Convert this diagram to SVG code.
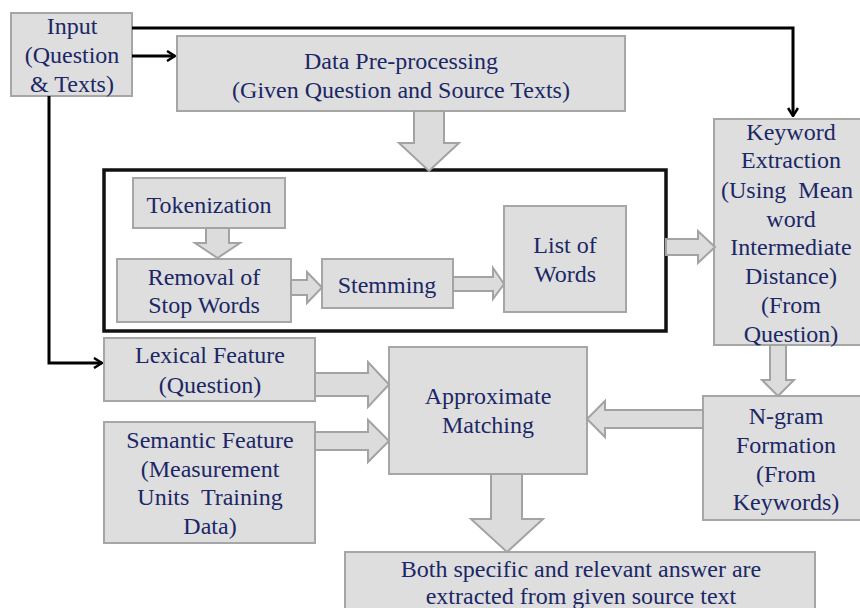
<svg xmlns="http://www.w3.org/2000/svg" width="860" height="608" viewBox="0 0 860 608">
  <style>
    .box { fill: #dedede; stroke: #a6a6a6; stroke-width: 2; }
    .frame { fill: none; stroke: #111; stroke-width: 3.5; }
    .lbl { font-family: "Liberation Serif", serif; font-size: 24px; fill: #1b2766; text-anchor: middle; }
    .blk { fill: #dcdcdc; stroke: #a3a3a3; stroke-width: 2; }
    .wire { fill: none; stroke: #000; stroke-width: 3; }
  </style>
  <defs>
    <marker id="open" viewBox="0 0 10 12" refX="9" refY="6" markerWidth="10" markerHeight="12" markerUnits="userSpaceOnUse" orient="auto">
      <path d="M1,1 L9,6 L1,11" fill="none" stroke="#000" stroke-width="2.5"/>
    </marker>
  </defs>
  <rect width="860" height="608" fill="#fff"/>

  <!-- processing frame -->
  <rect class="frame" x="104" y="170" width="562" height="161"/>

  <g id="input">
    <rect class="box" x="11" y="13" width="121" height="83"/>
    <text class="lbl" x="72" y="34">Input</text>
    <text class="lbl" x="72" y="63">(Question</text>
    <text class="lbl" x="72" y="92">&amp; Texts)</text>
  </g>

  <g id="preprocessing">
    <rect class="box" x="177" y="36" width="448" height="75"/>
    <text class="lbl" x="401" y="69">Data Pre-processing</text>
    <text class="lbl" x="401" y="98">(Given Question and Source Texts)</text>
  </g>

  <g id="tokenization">
    <rect class="box" x="133" y="178" width="152" height="50"/>
    <text class="lbl" x="209" y="213">Tokenization</text>
  </g>

  <g id="stopwords">
    <rect class="box" x="117" y="259" width="174" height="63"/>
    <text class="lbl" x="204" y="285">Removal of</text>
    <text class="lbl" x="204" y="313">Stop Words</text>
  </g>

  <g id="stemming">
    <rect class="box" x="322" y="259" width="131" height="49"/>
    <text class="lbl" x="387" y="293">Stemming</text>
  </g>

  <g id="wordlist">
    <rect class="box" x="504" y="206" width="122" height="106"/>
    <text class="lbl" x="565" y="253">List of</text>
    <text class="lbl" x="565" y="282">Words</text>
  </g>

  <g id="keyword">
    <rect class="box" x="714" y="119" width="156" height="226"/>
    <text class="lbl" x="791" y="140">Keyword</text>
    <text class="lbl" x="791" y="168">Extraction</text>
    <text class="lbl" x="787" y="198" xml:space="preserve">(Using  Mean</text>
    <text class="lbl" x="791" y="227">word</text>
    <text class="lbl" x="791" y="255">Intermediate</text>
    <text class="lbl" x="791" y="284">Distance)</text>
    <text class="lbl" x="791" y="313">(From</text>
    <text class="lbl" x="791" y="342">Question)</text>
  </g>

  <g id="lexical">
    <rect class="box" x="104" y="338" width="211" height="63"/>
    <text class="lbl" x="210" y="363">Lexical Feature</text>
    <text class="lbl" x="210" y="393">(Question)</text>
  </g>

  <g id="semantic">
    <rect class="box" x="104" y="422" width="211" height="121"/>
    <text class="lbl" x="210" y="448">Semantic Feature</text>
    <text class="lbl" x="210" y="477">(Measurement</text>
    <text class="lbl" x="210" y="505" xml:space="preserve">Units  Training</text>
    <text class="lbl" x="210" y="534">Data)</text>
  </g>

  <g id="matching">
    <rect class="box" x="389" y="347" width="198" height="127"/>
    <text class="lbl" x="488" y="404">Approximate</text>
    <text class="lbl" x="488" y="433">Matching</text>
  </g>

  <g id="ngram">
    <rect class="box" x="703" y="396" width="167" height="124"/>
    <text class="lbl" x="786" y="424">N-gram</text>
    <text class="lbl" x="786" y="453">Formation</text>
    <text class="lbl" x="786" y="482">(From</text>
    <text class="lbl" x="786" y="510">Keywords)</text>
  </g>

  <g id="answer">
    <rect class="box" x="345" y="552" width="470" height="70"/>
    <text class="lbl" x="581" y="577">Both specific and relevant answer are</text>
    <text class="lbl" x="581" y="604">extracted from given source text</text>
  </g>

  <g id="connectors">
    <!-- line connectors from the input -->
    <path class="wire" d="M132,28 H793 V116" marker-end="url(#open)"/>
    <path class="wire" d="M132,56 H175" marker-end="url(#open)"/>
    <path class="wire" d="M49,96 V363 H102" marker-end="url(#open)"/>

    <!-- block arrows -->
    <polygon class="blk" points="414,111 444,111 444,143 459,143 429,171 399,143 414,143"/>
    <polygon class="blk" points="206,228 229,228 229,243 240,243 217.5,258 195,243 206,243"/>
    <polygon class="blk" points="291,280 307,280 307,272 322,287.5 307,303 307,295 291,295"/>
    <polygon class="blk" points="453,277 493,277 493,268 504,284 493,299 493,291 453,291"/>
    <polygon class="blk" points="666,239 698,239 698,231 715,247 698,263 698,255 666,255"/>
    <polygon class="blk" points="770,345 786,345 786,380 794,380 778,396 762,380 770,380"/>
    <polygon class="blk" points="315,373 368,373 368,362 389,384.5 368,407 368,396 315,396"/>
    <polygon class="blk" points="315,432 368,432 368,420 389,441 368,462 368,450 315,450"/>
    <polygon class="blk" points="703,410 605,410 605,401 587,419 605,437 605,428 703,428"/>
    <polygon class="blk" points="491,474 522,474 522,519 543,519 507,552 471,519 491,519"/>
  </g>
</svg>
